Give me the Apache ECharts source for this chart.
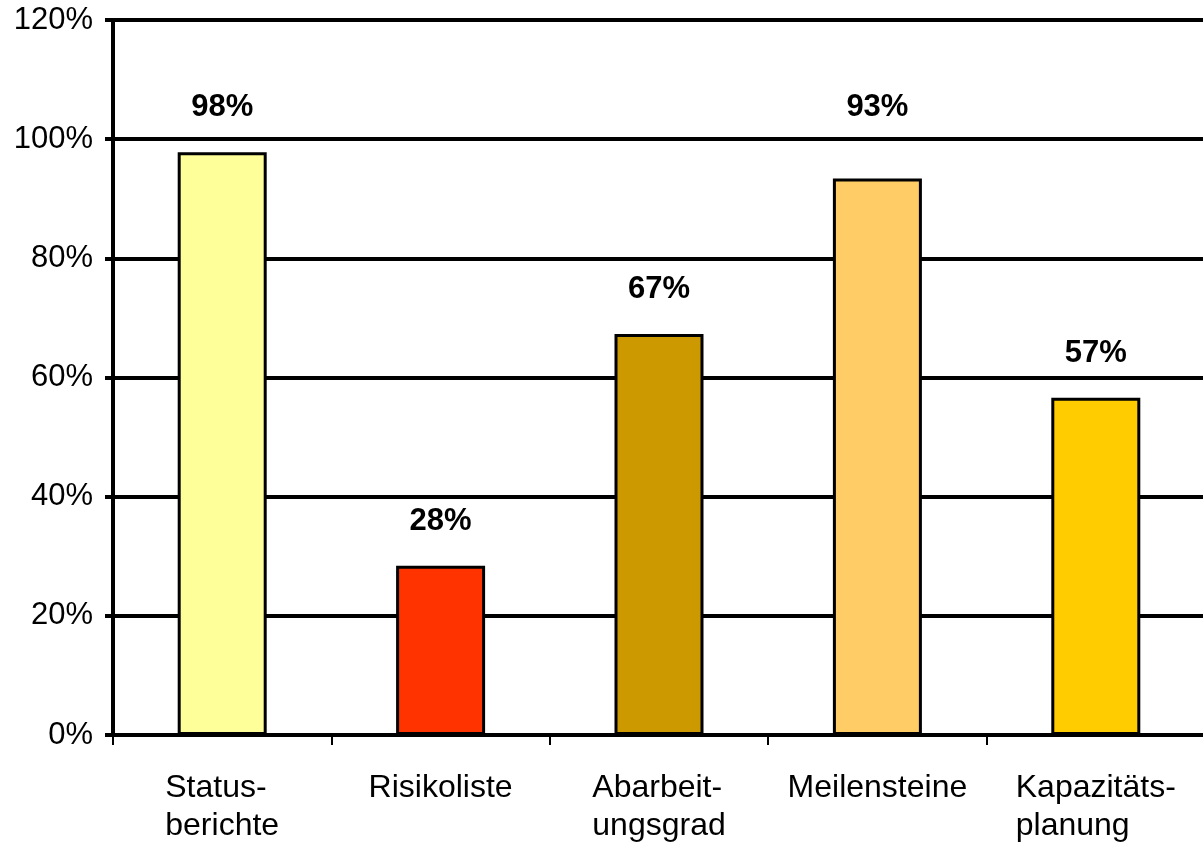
<!DOCTYPE html>
<html>
<head>
<meta charset="utf-8">
<script src="https://cdn.jsdelivr.net/npm/echarts@6/dist/echarts.min.js"></script>
<style>
  html, body { margin: 0; padding: 0; background: #ffffff; }
  #chart { width: 1203px; height: 842px; }
</style>
</head>
<body>
<div id="chart"></div>
<script>
const categories = ['Status-\nberichte', 'Risikoliste', 'Abarbeit-\nungsgrad', 'Meilensteine', 'Kapazitäts-\nplanung'];
const values = [97.8, 28.4, 67.3, 93.4, 56.6];
const barColors = ['#FFFF99', '#FF3300', '#CC9900', '#FFCC66', '#FFCC00'];
const yMin = 0, yMax = 120, yStep = 20;

const FONT = '"Liberation Sans", Arial, sans-serif';

const chart = echarts.init(document.getElementById('chart'), null, { renderer: 'canvas' });

const seriesData = values.map((v, i) => {
  const item = { value: v, itemStyle: { color: barColors[i] } };
  if (i === 3) item.label = { distance: 56 };
  return item;
});

chart.setOption({
  animation: false,
  backgroundColor: '#ffffff',
  grid: { left: 113, right: -2, top: 20, bottom: 107, containLabel: false, outerBoundsMode: 'none' },
  xAxis: {
    type: 'category',
    data: categories,
    boundaryGap: true,
    axisLine: { show: true, lineStyle: { color: '#000', width: 4 } },
    axisTick: { show: true, interval: 0, length: 10, lineStyle: { color: '#000', width: 2 }, alignWithLabel: false },
    axisLabel: {
      interval: 0,
      hideOverlap: false,
      margin: 34,
      color: '#000',
      fontFamily: FONT,
      fontSize: 32,
      lineHeight: 38,
      verticalAlign: 'top',
      formatter: function (v) {
        return v.split('\n').map(s => '{a|' + s + '}').join('\n');
      },
      rich: {
        a: { align: 'left', fontFamily: FONT, fontSize: 32, lineHeight: 38, color: '#000' }
      }
    },
    splitLine: { show: false }
  },
  yAxis: {
    type: 'value',
    min: yMin,
    max: yMax,
    interval: yStep,
    axisLine: { show: true, lineStyle: { color: '#000', width: 4 } },
    axisTick: { show: true, length: 8, lineStyle: { color: '#000', width: 4 } },
    axisLabel: {
      margin: 20,
      color: '#000',
      fontFamily: FONT,
      fontSize: 31,
      padding: [9, 0, 0, 0],
      formatter: '{value}%'
    },
    splitLine: { show: true, lineStyle: { color: '#000', width: 4 } }
  },
  series: [{
    type: 'bar',
    data: seriesData,
    barWidth: 89,
    itemStyle: { borderColor: '#000', borderWidth: 3 },
    label: {
      show: true,
      position: 'top',
      distance: 29,
      color: '#000',
      fontFamily: FONT,
      fontSize: 31,
      fontWeight: 'bold',
      formatter: p => Math.round(p.value) + '%'
    }
  }]
});
</script>
</body>
</html>
